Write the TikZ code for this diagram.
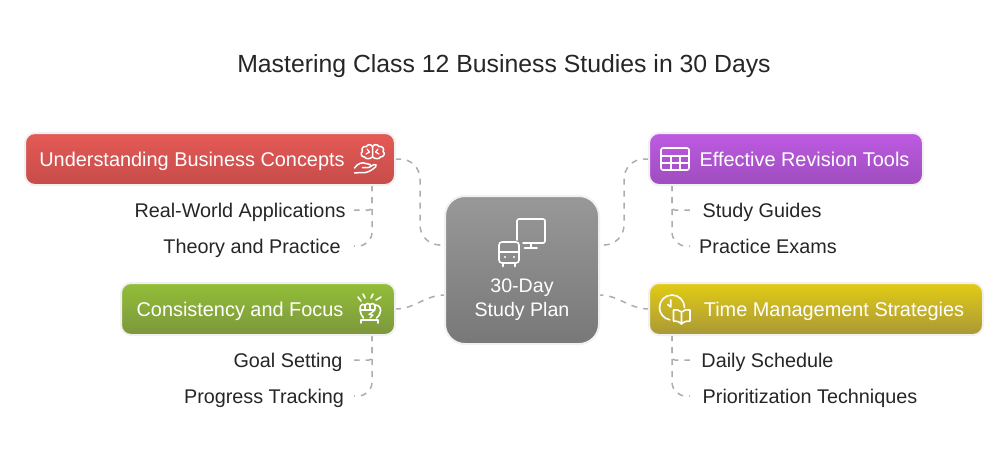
\documentclass[tikz,border=0pt]{standalone}
\usepackage{fontspec}
\setmainfont{Liberation Sans}
\definecolor{inkc}{HTML}{262626}
\definecolor{edgec}{HTML}{F1F1F1}
\definecolor{linkc}{HTML}{ADADAD}
\definecolor{redtop}{HTML}{E45A56}
\definecolor{redbot}{HTML}{C64C4A}
\definecolor{purtop}{HTML}{BE5AE2}
\definecolor{purbot}{HTML}{9E4DBE}
\definecolor{grntop}{HTML}{92BE38}
\definecolor{grnbot}{HTML}{7C973C}
\definecolor{yeltop}{HTML}{E2CC14}
\definecolor{yelbot}{HTML}{A99838}
\definecolor{huptop}{HTML}{989898}
\definecolor{hupbot}{HTML}{787878}
\tikzset{
  branch/.style={draw=edgec,line width=2pt,rounded corners=10pt,inner sep=0pt,minimum height=52pt},
  hubbox/.style={draw=edgec,line width=2pt,rounded corners=20pt,inner sep=0pt,minimum width=154pt,minimum height=148pt,top color=huptop,bottom color=hupbot},
  boxlabel/.style={text=white,font=\fontsize{19.9}{22}\selectfont,inner sep=0pt,text height=14pt,text depth=0pt},
  hublabel/.style={text=white,font=\fontsize{19.6}{24}\selectfont,inner sep=0pt,align=center},
  leaflabel/.style={text=inkc,font=\fontsize{19.8}{22}\selectfont,inner sep=0pt,text height=14pt,text depth=0pt},
  link/.style={draw=linkc,line width=1.5pt,dash pattern=on 6pt off 6pt},
  iconline/.style={draw=white,line width=1.6pt,line cap=round,line join=round}
}
\begin{document}
\begin{tikzpicture}[x=1pt,y=-1pt]
\useasboundingbox (0,0) rectangle (1008,456);
\fill[white] (0,0) rectangle (1008,456);
\node[text=inkc,font=\fontsize{24.8}{28}\selectfont,inner sep=0pt] (title) at (504,66.5) {Mastering Class 12 Business Studies in 30 Days};

% leaves
\node[leaflabel,minimum width=228pt] (leafA) at (240,210) {Real-World Applications};
\node[leaflabel,minimum width=204pt] (leafB) at (252,246) {Theory and Practice};
\node[leaflabel,minimum width=132pt] (leafC) at (288,360) {Goal Setting};
\node[leaflabel,minimum width=180pt] (leafD) at (264,396) {Progress Tracking};
\node[leaflabel,minimum width=144pt] (leafE) at (762,210) {Study Guides};
\node[leaflabel,minimum width=156pt] (leafF) at (768,246) {Practice Exams};
\node[leaflabel,minimum width=155pt] (leafG) at (767.5,360) {Daily Schedule};
\node[leaflabel,minimum width=240pt] (leafH) at (810,396) {Prioritization Techniques};

% anchors for connectors
\coordinate (dropR) at (372,185);
\coordinate (dropG) at (372,335);
\coordinate (dropP) at (672,185);
\coordinate (dropY) at (672,335);
\coordinate (hubLa) at (445,245);
\coordinate (hubLb) at (445,295);
\coordinate (hubRa) at (599,245);
\coordinate (hubRb) at (599,295);
\coordinate (midL) at (420,200);
\coordinate (midR) at (624,200);
\coordinate (redE) at (395,159);
\coordinate (grnE) at (395,309);
\coordinate (purW) at (649,159);
\coordinate (yelW) at (649,309);

% connectors
\draw[link,rounded corners=20pt] (redE) -| (midL) |- (hubLa);
\draw[link,rounded corners=20pt] (purW) -| (midR) |- (hubRa);
\draw[link] (grnE) to[out=0,in=180] (hubLb);
\draw[link] (yelW) to[out=180,in=0] (hubRb);
\draw[link,rounded corners=3pt] (dropR) |- (leafA.east);
\draw[link,rounded corners=14pt] (dropR) |- (leafB.east);
\draw[link,rounded corners=3pt] (dropG) |- (leafC.east);
\draw[link,rounded corners=14pt] (dropG) |- (leafD.east);
\draw[link,rounded corners=3pt] (dropP) |- (leafE.west);
\draw[link,rounded corners=14pt] (dropP) |- (leafF.west);
\draw[link,rounded corners=3pt] (dropY) |- (leafG.west);
\draw[link,rounded corners=14pt] (dropY) |- (leafH.west);

% boxes
\node[branch,minimum width=370pt,top color=redtop,bottom color=redbot] (boxR) at (210,159) {};
\node[branch,minimum width=274pt,top color=purtop,bottom color=purbot] (boxP) at (786,159) {};
\node[branch,minimum width=274pt,top color=grntop,bottom color=grnbot] (boxG) at (258,309) {};
\node[branch,minimum width=334pt,top color=yeltop,bottom color=yelbot] (boxY) at (816,309) {};
\node[hubbox] (hub) at (522,270) {};

% box labels
\node[boxlabel] (labR) at (192,159) {Understanding Business Concepts};
\node[boxlabel] (labP) at (804.5,159) {Effective Revision Tools};
\node[boxlabel] (labG) at (240,309) {Consistency and Focus};
\node[boxlabel] (labY) at (834,309) {Time Management Strategies};
\node[hublabel] (labH) at (522,300) {30-Day\\Study Plan};

% icon: brain on hand
\draw[iconline,line width=1.5pt] (372.5,147)
  .. controls (372,144) and (367,144) .. (366.5,146.5)
  .. controls (363,145.5) and (361,149) .. (362.5,151.5)
  .. controls (360,153) and (361,157) .. (364.5,157)
  .. controls (366,159.5) and (370,159) .. (372.5,157) -- cycle;
\draw[iconline,line width=1.5pt] (372.5,147)
  .. controls (373,144) and (378,144) .. (379,146.5)
  .. controls (382,145.5) and (385,149) .. (383,151.5)
  .. controls (385.5,153) and (384,157) .. (380.5,157)
  .. controls (379,159.5) and (375,159) .. (372.5,157);
\draw[iconline,line width=1.2pt] (367,149) -- (369.5,152) -- (366,154) (378,149) -- (375.5,152) -- (379,154);
\draw[iconline,line width=1.5pt] (354.5,168) .. controls (358,163) and (362,162) .. (366,163.5) -- (370,164.5)
  .. controls (372,165.5) and (371,167.5) .. (368.5,167.5) -- (362.5,167.5)
  (370.5,166.5) -- (374,164.5) .. controls (376,164) and (377,165.5) .. (375.5,167)
  .. controls (371,171) and (366,173.5) .. (361.5,172.5) -- (354.5,173);

% icon: table
\draw[iconline,rounded corners=2pt] (661,148) rectangle (689,170);
\draw[iconline] (661,156) -- (689,156) (661,163) -- (689,163) (671,156) -- (671,170) (680,156) -- (680,170);

% icon: fist
\draw[iconline] (363.5,318) .. controls (360,314) and (359.5,309) .. (360.5,306)
  .. controls (361,304) and (364,304) .. (365,305)
  .. controls (366,303) and (369,303) .. (370,304.5)
  .. controls (371,303) and (374,303) .. (375,305)
  .. controls (379,305) and (381,308) .. (380.5,311)
  .. controls (380,314) and (379,316.5) .. (376.5,318);
\draw[iconline,line width=1.3pt] (365,305) -- (365,310) (370,304.5) -- (370,309) (375,305) -- (375,309) (360.5,310) -- (375,310);
\draw[iconline,line width=1.3pt] (374,311) -- (369,314.5) -- (373,315) -- (370,318);
\draw[iconline] (361,323) -- (361,320) -- (378,320) -- (378,323);
\draw[iconline] (358,297) -- (361,301) (363,294) -- (365,298) (373,294) -- (371,298) (381,297) -- (376,300);

% icon: clock and book
\draw[iconline] (684.5,307.5) arc[start angle=0,end angle=-260,radius=12.5];
\draw[iconline] (670.7,300) -- (670.7,307) -- (667.7,304.5);
\draw[iconline] (681.5,312) .. controls (679,310) and (676,309) .. (673.5,310) -- (673.5,321) .. controls (676,320.5) and (679,321.5) .. (681.5,324)
 .. controls (684,321.5) and (687,320.5) .. (690,321) -- (690,310) .. controls (687,309) and (684,310) .. (681.5,312) -- (681.5,324);

% icon: monitor and bus
\draw[iconline,rounded corners=2pt] (517,240) -- (517,219) -- (545,219) -- (545,243) -- (523,243);
\draw[iconline] (531,243) -- (531,248) (524.5,248) -- (537,248);
\draw[iconline,rounded corners=3pt] (499,242) rectangle (519,263);
\draw[iconline] (499,252) -- (519,252) (503,263) -- (503,266.5) (515,263) -- (515,266.5);
\fill[white] (505,257) circle (1.2) (514,257) circle (1.2);
\end{tikzpicture}
\end{document}
